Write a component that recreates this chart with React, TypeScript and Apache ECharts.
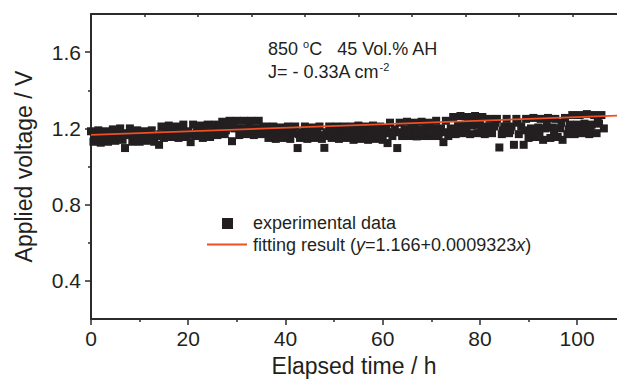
import React, { useEffect, useRef } from "react";
import * as echarts from "echarts";

// Measured applied voltage (h, V)
const measured: [number, number][] = [
  [0, 1.185], [0.5, 1.13], [1, 1.16], [1.5, 1.19], [2, 1.125], [2.5, 1.15], [3, 1.185], [3.5, 1.13], [4, 1.165], [4.5, 1.195],
  [5, 1.135], [5.5, 1.17], [6, 1.2], [6.5, 1.14], [7, 1.097], [7.5, 1.175], [8, 1.2], [8.5, 1.13],
  [9, 1.16], [9.5, 1.19], [10, 1.13], [10.5, 1.155], [11, 1.185], [11.5, 1.135], [12, 1.165], [12.5, 1.19], [13, 1.13], [13.5, 1.16],
  [14, 1.114],
  [14.5, 1.21], [15, 1.15], [15.5, 1.18], [16, 1.215], [16.5, 1.155], [17, 1.185], [17.5, 1.21], [18, 1.15],
  [18.5, 1.18], [19, 1.22], [19.5, 1.155], [20, 1.185], [20.5, 1.128], [21, 1.22], [21.5, 1.16], [22, 1.19], [22.5, 1.215], [23, 1.15],
  [23.5, 1.18], [24, 1.22], [24.5, 1.155], [25, 1.19], [25.5, 1.22],
  [26, 1.165], [26.5, 1.2], [27, 1.235], [27.5, 1.17], [28, 1.205], [28.5, 1.24], [29, 1.133], [29.5, 1.2], [30, 1.24], [30.5, 1.165],
  [31, 1.2], [31.5, 1.24], [32, 1.17], [32.5, 1.205], [33, 1.24], [33.5, 1.165], [34, 1.2], [34.5, 1.24], [35, 1.17], [35.5, 1.205],
  [36, 1.21], [36.5, 1.15], [37, 1.18], [37.5, 1.21], [38, 1.145], [38.5, 1.175], [39, 1.205], [39.5, 1.15], [40, 1.18], [40.5, 1.21],
  [41, 1.145], [41.5, 1.175], [42, 1.21],
  [42.5, 1.097],
  [43, 1.15], [43.5, 1.18], [44, 1.21], [44.5, 1.145], [45, 1.175], [45.5, 1.205], [46, 1.15], [46.5, 1.18], [47, 1.21], [47.5, 1.145],
  [48, 1.098], [48.5, 1.18], [49, 1.21], [49.5, 1.15], [50, 1.175], [50.5, 1.21], [51, 1.145], [51.5, 1.18], [52, 1.21], [52.5, 1.15],
  [53, 1.18], [53.5, 1.21], [54, 1.14], [54.5, 1.175], [55, 1.215], [55.5, 1.145], [56, 1.18], [56.5, 1.21], [57, 1.14], [57.5, 1.175],
  [58, 1.215], [58.5, 1.145], [59, 1.18], [59.5, 1.21], [60, 1.14], [60.5, 1.175],
  [61, 1.123],
  [61.5, 1.23], [62, 1.16], [62.5, 1.195], [63, 1.097], [63.5, 1.23], [64, 1.16], [64.5, 1.195], [65, 1.235], [65.5, 1.16], [66, 1.2],
  [66.5, 1.23], [67, 1.158], [67.5, 1.195], [68, 1.235], [68.5, 1.16], [69, 1.2], [69.5, 1.23], [70, 1.16],
  [70.5, 1.2], [71, 1.24], [71.5, 1.16], [72, 1.2], [72.5, 1.128], [73, 1.24], [73.5, 1.16], [74, 1.2],
  [74.5, 1.26], [75, 1.17], [75.5, 1.215], [76, 1.265], [76.5, 1.175], [77, 1.22], [77.5, 1.26], [78, 1.17], [78.5, 1.215], [79, 1.265],
  [79.5, 1.175], [80, 1.22], [80.5, 1.26],
  [81, 1.17], [81.5, 1.21], [82, 1.25], [82.5, 1.175], [83, 1.21], [83.5, 1.25], [84, 1.1], [84.5, 1.17], [85, 1.21], [85.5, 1.25],
  [86, 1.175], [86.5, 1.21], [87, 1.114], [87.5, 1.25], [88, 1.17], [88.5, 1.21], [89, 1.114], [89.5, 1.25],
  [90, 1.15], [90.5, 1.2], [91, 1.255], [91.5, 1.155], [92, 1.205], [92.5, 1.25], [93, 1.14], [93.5, 1.2], [94, 1.255], [94.5, 1.15],
  [95, 1.205], [95.5, 1.25], [96, 1.155], [96.5, 1.2],
  [97, 1.14], [97.5, 1.255], [98, 1.17], [98.5, 1.22], [99, 1.27], [99.5, 1.17], [100, 1.22], [100.5, 1.27], [101, 1.175], [101.5, 1.225],
  [102, 1.275], [102.5, 1.17], [103, 1.22], [103.5, 1.27], [104, 1.175], [104.5, 1.225], [105, 1.27], [105.5, 1.2],
];

// Additional readings between the half-hour samples
const measuredExtra: [number, number][] = [
  [0.75, 1.17], [2.25, 1.16], [3.75, 1.15], [5.25, 1.165], [6.75, 1.165], [8.25, 1.165], [9.75, 1.145], [11.25, 1.16], [12.75, 1.16],
  [14.25, 1.17], [15.75, 1.17], [17.25, 1.17], [18.75, 1.2], [20.25, 1.17], [21.75, 1.18], [23.25, 1.2], [24.75, 1.175],
  [26.25, 1.185], [27.75, 1.19], [29.25, 1.22], [30.75, 1.185], [32.25, 1.19], [33.75, 1.18], [35.25, 1.19],
  [36.75, 1.165], [38.25, 1.19], [39.75, 1.165], [41.25, 1.19], [42.75, 1.17], [44.25, 1.165], [45.75, 1.19], [47.25, 1.165],
  [48.75, 1.16], [50.25, 1.19], [51.75, 1.165], [53.25, 1.16], [54.75, 1.195], [56.25, 1.16], [57.75, 1.195], [59.25, 1.16],
  [60.75, 1.2], [62.25, 1.18], [63.75, 1.18], [65.25, 1.18], [66.75, 1.175], [68.25, 1.18], [69.75, 1.215], [71.25, 1.18],
  [72.75, 1.18], [74.25, 1.18], [75.75, 1.195], [77.25, 1.195], [78.75, 1.24], [80.25, 1.19], [81.75, 1.19], [83.25, 1.23],
  [84.75, 1.19], [86.25, 1.19], [87.75, 1.23], [89.25, 1.19], [90.75, 1.175], [92.25, 1.18], [93.75, 1.225], [95.25, 1.18],
  [96.75, 1.23], [98.25, 1.195], [99.75, 1.195], [101.25, 1.2], [102.75, 1.195], [104.25, 1.25],
];

// Linear fit y = a + b x
const fitIntercept = 1.166;
const fitSlope = 0.0009323;

const xMin = 0;
const xMax = 108.2;
const yMin = 0.2;
const yMax = 1.8;
const xMajorTicks = [0, 20, 40, 60, 80, 100];
const xMinorTicks = [10, 30, 50, 70, 90];
const xTopTicks = [0, 11, 22, 33, 44, 55, 66, 77, 88, 99];
const yMajorTicks = [0.4, 0.8, 1.2, 1.6];
const yMinorTicks = [0.6, 1.0, 1.4];

const FONT = "'Liberation Sans', Arial, Helvetica, sans-serif";
const INK = "#231f20";
const AXIS = "#2b2b2b";
const FIT = "#ee4f23";

export default function App() {
  const ref = useRef<HTMLDivElement>(null);
  useEffect(() => {
    document.body.style.margin = "0";
    const chart = echarts.init(ref.current!, undefined, { renderer: "svg" });
    const fitLine = [
      [xMin, fitIntercept + fitSlope * xMin],
      [xMax, fitIntercept + fitSlope * xMax],
    ];
    const baseAxis = {
      type: "value" as const,
      splitLine: { show: false },
    };
    const supStyle = { fontSize: 11, verticalAlign: "top", padding: [0, 0, 10, 0], fontFamily: FONT, fill: INK };
    chart.setOption({
      animation: false,
      backgroundColor: "#ffffff",
      textStyle: { fontFamily: FONT },
      grid: { left: 91, top: 14, right: 0, bottom: 57, containLabel: false },
      xAxis: [
        {
          ...baseAxis,
          min: xMin,
          max: xMax,
          interval: 20,
          position: "bottom",
          name: "Elapsed time / h",
          nameLocation: "middle",
          nameGap: 34,
          nameTextStyle: { fontSize: 23, color: INK, fontFamily: FONT },
          axisLine: { show: true, lineStyle: { color: AXIS, width: 2 } },
          axisTick: { show: true, inside: false, length: 6, customValues: xMajorTicks, lineStyle: { color: AXIS, width: 1.5 } },
          axisLabel: { show: true, customValues: xMajorTicks, fontSize: 21, color: INK, margin: 9, fontFamily: FONT },
        },
        {
          ...baseAxis,
          min: xMin,
          max: xMax,
          interval: 10,
          position: "bottom",
          axisLine: { show: false },
          axisTick: { show: true, inside: false, length: 3, customValues: xMinorTicks, lineStyle: { color: AXIS, width: 1.5 } },
          axisLabel: { show: false },
        },
        {
          ...baseAxis,
          min: xMin,
          max: xMax,
          interval: 11,
          position: "top",
          axisLine: { show: true, lineStyle: { color: AXIS, width: 2 } },
          axisTick: { show: true, inside: true, length: 3, customValues: xTopTicks, lineStyle: { color: AXIS, width: 1.5 } },
          axisLabel: { show: false },
        },
      ],
      yAxis: [
        {
          ...baseAxis,
          min: yMin,
          max: yMax,
          interval: 0.2,
          position: "left",
          name: "Applied voltage / V",
          nameLocation: "middle",
          nameGap: 56,
          nameTextStyle: { fontSize: 23, color: INK, fontFamily: FONT },
          axisLine: { show: true, lineStyle: { color: AXIS, width: 2 } },
          axisTick: { show: true, inside: false, length: 6, customValues: yMajorTicks, lineStyle: { color: AXIS, width: 1.5 } },
          axisLabel: {
            show: true,
            customValues: yMajorTicks,
            fontSize: 21,
            color: INK,
            margin: 10,
            fontFamily: FONT,
            formatter: (v: number) => v.toFixed(1),
          },
        },
        {
          ...baseAxis,
          min: yMin,
          max: yMax,
          interval: 0.2,
          position: "left",
          axisLine: { show: false },
          axisTick: { show: true, inside: false, length: 3, customValues: yMinorTicks, lineStyle: { color: AXIS, width: 1.5 } },
          axisLabel: { show: false },
        },
      ],
      series: [
        {
          name: "experimental data",
          type: "scatter",
          xAxisIndex: 0,
          yAxisIndex: 0,
          symbol: "rect",
          symbolSize: 8,
          itemStyle: { color: INK, opacity: 1 },
          data: [...measured, ...measuredExtra],
          z: 2,
        },
        {
          name: "fitting result",
          type: "line",
          xAxisIndex: 0,
          yAxisIndex: 0,
          showSymbol: false,
          symbol: "none",
          lineStyle: { color: FIT, width: 1.8 },
          data: fitLine,
          z: 3,
        },
      ],
      graphic: [
        {
          type: "text",
          left: 268,
          top: 38,
          style: {
            text: "850 {sup|o}C   45 Vol.% AH",
            fontSize: 18,
            fontFamily: FONT,
            fill: INK,
            rich: { sup: supStyle },
          },
        },
        {
          type: "text",
          left: 268,
          top: 61,
          style: {
            text: "J= - 0.33A cm{sup|-2}",
            fontSize: 18,
            fontFamily: FONT,
            fill: INK,
            rich: { sup: supStyle },
          },
        },
        {
          type: "rect",
          shape: { x: 222, y: 218, width: 11, height: 11 },
          style: { fill: INK },
        },
        {
          type: "line",
          shape: { x1: 207, y1: 244.5, x2: 247, y2: 244.5 },
          style: { stroke: FIT, lineWidth: 2 },
        },
        {
          type: "text",
          x: 253,
          y: 223,
          style: { text: "experimental data", fontSize: 18, fontFamily: FONT, fill: INK, verticalAlign: "middle" },
        },
        {
          type: "text",
          x: 253,
          y: 245,
          style: {
            text: "fitting result ({i|y}=1.166+0.0009323{i|x})",
            fontSize: 18,
            fontFamily: FONT,
            fill: INK,
            verticalAlign: "middle",
            rich: { i: { fontStyle: "italic", fontSize: 18, fontFamily: FONT, fill: INK } },
          },
        },
      ],
    });
    return () => chart.dispose();
  }, []);
  return <div ref={ref} style={{ width: 617, height: 382 }} />;
}
